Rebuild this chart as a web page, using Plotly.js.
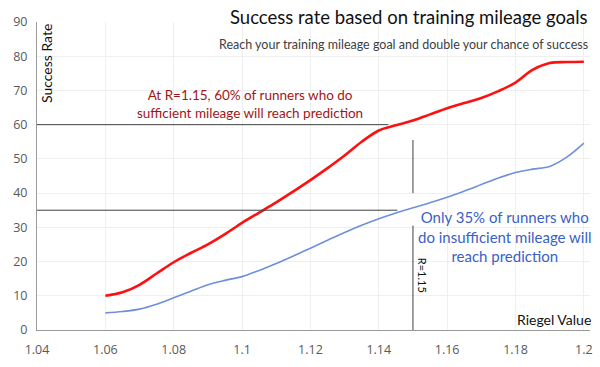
<!DOCTYPE html>
<html><head><meta charset="utf-8">
<script src="https://cdn.plot.ly/plotly-3.0.1.min.js"></script>
<style>html,body{margin:0;padding:0;background:#fff}#c{width:600px;height:367px}</style>
</head><body><div id="c"></div>
<script>
const riegel = [1.06,1.065,1.07,1.075,1.08,1.085,1.09,1.095,1.1,1.105,1.11,1.115,1.12,1.125,1.13,1.135,1.14,1.145,1.15,1.155,1.16,1.165,1.17,1.175,1.18,1.185,1.19,1.195,1.2];
const sufficient = [10,11,13.2,16.5,19.8,22.5,25,28,31.3,34.3,37.3,40.5,43.8,47.3,51,55,58.3,59.8,61.2,63,64.8,66.3,67.8,69.8,72.3,76,78,78.3,78.4];
const insufficient = [5,5.4,6.1,7.5,9.4,11.3,13.2,14.5,15.6,17.4,19.4,21.6,23.9,26.2,28.5,30.6,32.5,34.2,35.7,37.2,38.8,40.6,42.5,44.4,46,47,47.8,50.5,54.6];
const xTicks = [1.04,1.06,1.08,1.1,1.12,1.14,1.16,1.18,1.2];
const yTicks = [0,10,20,30,40,50,60,70,80,90];
const refR = 1.15, refHigh = 60, refLow = 35;

const data = [
  {x: riegel, y: sufficient, mode:'lines', line:{color:'#ff1010', width:2.6, shape:'spline'}, hoverinfo:'skip'},
  {x: riegel, y: insufficient, mode:'lines', line:{color:'#6f8fdc', width:1.6, shape:'spline'}, hoverinfo:'skip'}
];
const lc = '#404040';
const layout = {
  width:600, height:367,
  margin:{l:37, r:10, t:22, b:37},
  paper_bgcolor:'#fff', plot_bgcolor:'#fff',
  showlegend:false,
  font:{family:'Lato, sans-serif'},
  xaxis:{range:[1.04,1.2018], tickvals:xTicks, ticktext:xTicks.map(v=>String(v)), showgrid:true, gridcolor:'#efefef', gridwidth:1,
    showline:true, linecolor:'#9a9a9a', linewidth:1, zeroline:false, ticks:'', ticklen:0, ticklabelstandoff:8,
    tickfont:{family:'Open Sans, sans-serif', size:12.5, color:'#595959'}},
  yaxis:{range:[0,90], tickvals:yTicks, showgrid:true, gridcolor:'#efefef', gridwidth:1,
    showline:true, linecolor:'#9a9a9a', linewidth:1, zeroline:false, ticks:'', ticklen:0, ticklabelstandoff:6,
    tickfont:{family:'Open Sans, sans-serif', size:12.5, color:'#595959'}},
  shapes:[
    {type:'line', xref:'x', yref:'y', x0:1.04, x1:1.1428, y0:refHigh, y1:refHigh, line:{color:lc, width:1}},
    {type:'line', xref:'x', yref:'y', x0:1.04, x1:1.1454, y0:refLow, y1:refLow, line:{color:lc, width:1}},
    {type:'line', xref:'x', yref:'y', x0:refR, x1:refR, y0:40, y1:55.5, line:{color:lc, width:1}},
    {type:'line', xref:'x', yref:'y', x0:refR, x1:refR, y0:0, y1:30.5, line:{color:lc, width:1}}
  ],
  annotations:[
    {xref:'paper', yref:'paper', x:1.0, y:1.0, yshift:5, xanchor:'right', yanchor:'middle', showarrow:false,
     text:'Success rate based on training mileage goals', font:{family:'Lato, sans-serif', size:18.5, color:'#111'}},
    {xref:'paper', yref:'paper', x:1.0, y:1.0, yshift:-22, xanchor:'right', yanchor:'middle', showarrow:false,
     text:'Reach your training mileage goal and double your chance of success', font:{family:'Lato, sans-serif', size:12.5, color:'#404040'}},
    {xref:'x', yref:'y', x:1.0428, y:90, xanchor:'center', yanchor:'top', textangle:-90, showarrow:false,
     text:'Success Rate', font:{family:'Lato, sans-serif', size:14, color:'#111'}},
    {xref:'x', yref:'y', x:1.1024, y:66, xanchor:'center', yanchor:'middle', showarrow:false,
     text:'At R=1.15, 60% of runners who do<br>sufficient mileage will reach prediction', font:{family:'Lato, sans-serif', size:13.5, color:'#a31515'}},
    {xref:'x', yref:'y', x:1.177, y:27.2, xanchor:'center', yanchor:'middle', showarrow:false,
     text:'Only 35% of runners who<br>do insufficient mileage will<br>reach prediction', font:{family:'Lato, sans-serif', size:15, color:'#3a5fc6'}},
    {xref:'x', yref:'y', x:refR, xshift:1, y:16, xanchor:'left', yanchor:'middle', textangle:90, showarrow:false,
     text:'R=1.15', font:{family:'Lato, sans-serif', size:11, color:'#111'}},
    {xref:'paper', yref:'y', x:1.0, xshift:3, y:3, xanchor:'right', yanchor:'middle', showarrow:false,
     text:'Riegel Value', font:{family:'Lato, sans-serif', size:14, color:'#111'}}
  ]
};
Plotly.newPlot('c', data, layout, {staticPlot:true, displayModeBar:false});
</script></body></html>
